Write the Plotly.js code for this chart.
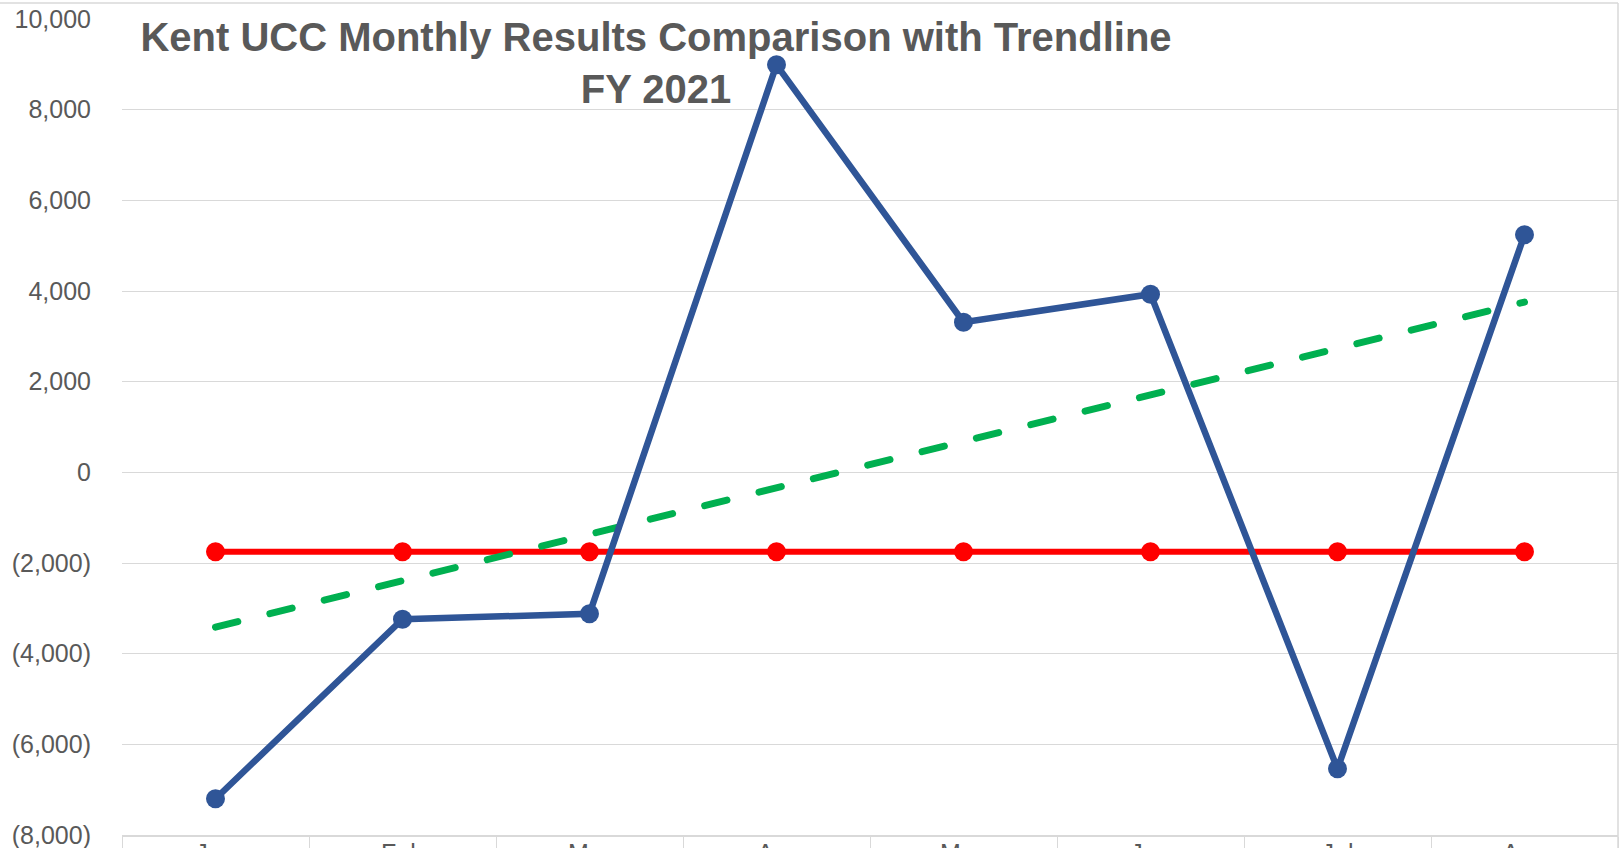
<!DOCTYPE html>
<html>
<head>
<meta charset="utf-8">
<script src="https://cdn.plot.ly/plotly-3.0.1.min.js"></script>
<style>
html, body { margin: 0; padding: 0; overflow: hidden; background: #fff; }
#chart { width: 1621px; height: 880px; }
.scatterlayer .js-line { stroke-linecap: round !important; }
</style>
</head>
<body>
<div id="chart"></div>
<script>
// ---- data ----
const months = ['Jan', 'Feb', 'Mar', 'Apr', 'May', 'Jun', 'Jul', 'Aug'];
const monthlyResults = [-7200, -3240, -3120, 8990, 3310, 3930, -6540, 5240];
const comparisonLevel = [-1750, -1750, -1750, -1750, -1750, -1750, -1750, -1750];
const yTickValues = [10000, 8000, 6000, 4000, 2000, 0, -2000, -4000, -6000, -8000];
const yTickLabels = ['10,000', '8,000', '6,000', '4,000', '2,000', '0', '(2,000)', '(4,000)', '(6,000)', '(8,000)'];

// linear trendline (least squares, as the spreadsheet trendline does)
const n = monthlyResults.length;
const xs = months.map((_, i) => i + 1);
const mx = xs.reduce((a, b) => a + b, 0) / n;
const my = monthlyResults.reduce((a, b) => a + b, 0) / n;
let sxy = 0, sxx = 0;
for (let i = 0; i < n; i++) { sxy += (xs[i] - mx) * (monthlyResults[i] - my); sxx += (xs[i] - mx) ** 2; }
const slope = sxy / sxx;
const intercept = my - slope * mx;
const trend = xs.map(x => intercept + slope * x);

const FONT = 'Liberation Sans, Arial, sans-serif';

const traces = [
  {
    x: months, y: comparisonLevel, type: 'scatter', mode: 'lines+markers',
    name: 'Comparison',
    line: { color: '#FF0000', width: 6 },
    marker: { color: '#FF0000', size: 19 }
  },
  {
    x: months, y: trend, type: 'scatter', mode: 'lines',
    name: 'Linear trend',
    line: { color: '#00B050', width: 7, dash: '23px,33px' }
  },
  {
    x: months, y: monthlyResults, type: 'scatter', mode: 'lines+markers',
    name: 'Monthly Results',
    line: { color: '#2F5597', width: 6.5 },
    marker: { color: '#2F5597', size: 19 }
  }
];

const layout = {
  width: 1621, height: 880,
  margin: { l: 122, r: 3, t: 19, b: 45 },
  paper_bgcolor: '#ffffff', plot_bgcolor: '#ffffff',
  showlegend: false,
  title: {
    text: '<b>Kent UCC Monthly Results Comparison with Trendline</b><br><b>FY 2021</b>',
    x: 656 / 1621, xref: 'container', xanchor: 'center',
    y: 1 - 51 / 880, yref: 'container', yanchor: 'top',
    font: { family: FONT, size: 40, color: '#595959' }
  },
  xaxis: {
    type: 'category', range: [-0.5, 7.5],
    showgrid: false, zeroline: false,
    showline: true, linecolor: '#D9D9D9', linewidth: 2,
    ticks: 'outside', tickson: 'boundaries', ticklen: 20, tickcolor: '#D9D9D9', tickwidth: 1,
    ticklabelstandoff: -5,
    tickfont: { family: FONT, size: 25, color: '#595959' }
  },
  yaxis: {
    range: [-8000, 10000],
    tickvals: yTickValues, ticktext: yTickLabels,
    showgrid: true, gridcolor: '#D9D9D9', gridwidth: 1,
    zeroline: true, zerolinecolor: '#D9D9D9', zerolinewidth: 1,
    showline: false, ticks: '',
    ticklabelstandoff: 30,
    tickfont: { family: FONT, size: 25, color: '#595959' }
  },
  shapes: [
    { type: 'line', xref: 'paper', yref: 'paper', x0: -122 / 1496, x1: 1, y0: 1 + 16 / 816, y1: 1 + 16 / 816,
      line: { color: '#D9D9D9', width: 1.5 } },
    { type: 'line', xref: 'paper', yref: 'paper', x0: 1, x1: 1, y0: -0.1, y1: 1 + 16 / 816,
      line: { color: '#D9D9D9', width: 1.5 } }
  ]
};

Plotly.newPlot('chart', traces, layout, { displayModeBar: false, staticPlot: true });
</script>
</body>
</html>
